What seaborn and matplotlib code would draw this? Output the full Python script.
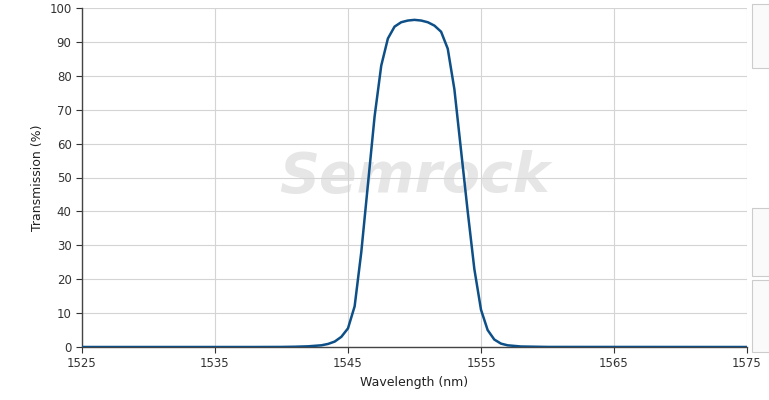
import numpy as np
import pandas as pd
import matplotlib
matplotlib.use("Agg")
import matplotlib.pyplot as plt
import seaborn as sns
from matplotlib.patches import Rectangle

# Transmission curve
wavelength = [1525, 1538, 1540, 1541, 1542, 1543, 1543.5, 1544, 1544.5, 1545, 1545.5,
              1546, 1546.5, 1547, 1547.5, 1548, 1548.5, 1549, 1549.5, 1550, 1550.5,
              1551, 1551.5, 1552, 1552.5, 1553, 1553.5, 1554, 1554.5, 1555, 1555.5,
              1556, 1556.5, 1557, 1558, 1560, 1575]
transmission = [0, 0, 0.02, 0.08, 0.2, 0.5, 0.9, 1.6, 3.0, 5.5, 12,
                28, 48, 68, 83, 91, 94.5, 95.8, 96.3, 96.5, 96.3,
                95.8, 94.8, 93, 88, 76, 58, 40, 23, 11, 5,
                2.2, 1.0, 0.5, 0.15, 0.02, 0]

x_ticks = [1525, 1535, 1545, 1555, 1565, 1575]
y_ticks = list(range(0, 101, 10))

df = pd.DataFrame({"Wavelength (nm)": wavelength, "Transmission (%)": transmission})

sns.set_style("whitegrid")
plt.rcParams['font.family'] = ['DejaVu Sans']

fig = plt.figure(figsize=(7.69, 4), dpi=100)
ax = fig.add_axes([0.1066, 0.1325, 0.8648, 0.8475])

ax.text(0.5, 0.5, "Semrock", transform=ax.transAxes, fontsize=40, fontstyle="italic",
        fontweight="bold", color="#e6e6e6", ha="center", va="center", zorder=0)

sns.lineplot(data=df, x="Wavelength (nm)", y="Transmission (%)", ax=ax,
             color="#0d4f86", linewidth=1.8, zorder=3)

ax.set_xlim(1525, 1575)
ax.set_ylim(0, 100)
ax.set_xticks(x_ticks)
ax.set_yticks(y_ticks)
ax.tick_params(labelsize=8.5, colors="#333333", length=4, direction="out")
ax.tick_params(axis="both", which="both", left=True, bottom=True)
ax.grid(color="#d4d4d4", linewidth=0.8)
ax.set_xlabel("Wavelength (nm)", fontsize=9, color="#222222")
ax.set_ylabel("Transmission (%)", fontsize=9, color="#222222")
for side in ["top", "right"]:
    ax.spines[side].set_visible(False)
for side in ["left", "bottom"]:
    ax.spines[side].set_color("#444444")
    ax.spines[side].set_linewidth(1)

# right side panels
for y0, h in [(0.83, 0.16), (0.31, 0.17), (0.12, 0.18)]:
    fig.patches.append(Rectangle((0.978, y0), 0.03, h, transform=fig.transFigure,
                                 facecolor="#fafafa", edgecolor="#cccccc", linewidth=0.8))

fig.savefig("out.png", dpi=100)
